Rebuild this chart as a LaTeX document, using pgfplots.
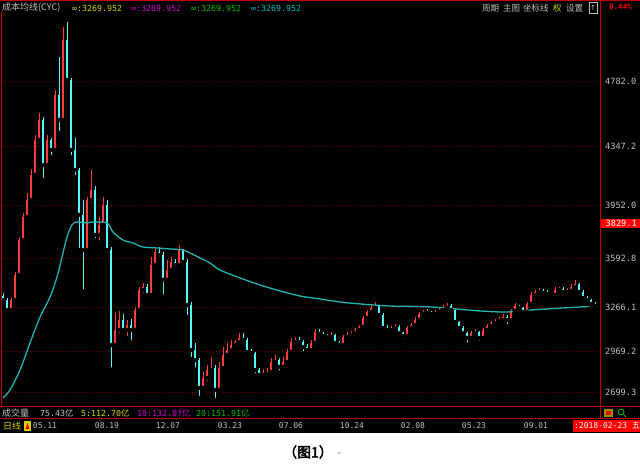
\documentclass[border=0pt]{standalone}
\usepackage{pgfplots}
\pgfplotsset{compat=1.18}
\usepackage{pgfplotstable}
\usepackage{fontspec}
\setmainfont{Liberation Sans}
\setmonofont{DejaVu Sans Mono}
\newfontfamily\cjk{Noto Sans CJK SC}[AutoFakeBold=3]
\newfontfamily\dejavu{DejaVu Sans}

\definecolor{upred}{RGB}{255,60,60}
\definecolor{dncyan}{RGB}{84,250,250}
\definecolor{cycline}{RGB}{30,180,180}
\definecolor{gridred}{RGB}{130,0,0}
\definecolor{framered}{RGB}{190,0,0}
\definecolor{lbl}{RGB}{192,192,192}
\definecolor{ylw}{RGB}{210,210,0}
\definecolor{mag}{RGB}{210,0,210}
\definecolor{grn}{RGB}{0,190,0}
\definecolor{cyn}{RGB}{0,190,190}

% x = pixel column of the candle, o h l c = index points
\pgfplotstableread{
x o h l c
3 3340 3360 3290 3315
7 3315 3330 3225 3248
11 3248 3330 3235 3315
15 3315 3500 3300 3483
19 3483 3740 3470 3717
23 3717 3900 3700 3871
27 3871 4030 3850 3985
31 3985 4190 3960 4153
35 4153 4420 4130 4387
39 4387 4568 4370 4521
43 4521 4540 4119 4219
47 4219 4420 4200 4387
51 4387 4400 4273 4320
55 4320 4720 4300 4688
59 4688 4943 4434 4521
63 4521 5144 4500 5057
67 5057 5178 4769 4789
71 4789 4800 4273 4320
75 4320 4400 4139 4186
79 4186 4200 3650 3885
83 3885 3985 3373 3650
87 3650 4005 3630 3985
91 3985 4186 3950 4052
95 4052 4080 3717 3751
99 3751 3870 3700 3818
103 3818 4005 3800 3952
107 3952 3985 3620 3650
111 3650 3670 2850 3014
115 3014 3230 2990 3114
119 3114 3240 3080 3181
123 3181 3220 3090 3114
127 3114 3180 3060 3148
131 3148 3190 3030 3114
135 3114 3270 3100 3248
139 3248 3400 3230 3382
143 3382 3430 3350 3400
147 3400 3420 3330 3349
151 3349 3600 3340 3550
155 3550 3660 3530 3637
159 3637 3670 3590 3617
163 3617 3640 3340 3450
167 3450 3583 3430 3516
171 3516 3600 3500 3570
175 3570 3590 3520 3550
179 3550 3684 3540 3650
183 3650 3660 3540 3570
187 3570 3590 3200 3282
191 3282 3300 2920 2980
195 2980 3030 2850 2913
199 2913 2930 2659 2726
203 2726 2830 2700 2793
207 2793 2880 2760 2846
211 2846 2933 2820 2860
215 2860 2880 2645 2713
219 2713 2900 2700 2860
223 2860 3000 2840 2947
227 2947 3030 2930 2980
231 2980 3050 2960 3014
235 3014 3050 2990 3034
239 3034 3094 3020 3061
243 3061 3097 3020 3047
247 3047 3060 2940 2967
251 2967 2990 2930 2960
255 2960 2970 2810 2846
259 2846 2860 2790 2813
263 2813 2850 2790 2820
267 2820 2860 2795 2833
271 2833 2930 2820 2900
275 2900 2945 2890 2913
279 2913 2930 2830 2867
283 2867 2935 2850 2900
287 2900 2990 2890 2967
291 2967 3060 2950 3034
295 3034 3070 3020 3047
299 3047 3065 3010 3034
303 3034 3050 2960 3000
307 3000 3020 2960 2980
311 2980 3045 2970 3027
315 3027 3120 3020 3101
319 3101 3120 3070 3088
323 3088 3100 3050 3074
327 3074 3090 3050 3067
331 3067 3100 3060 3081
335 3081 3090 3010 3027
339 3027 3040 2990 3014
343 3014 3080 3000 3067
347 3067 3100 3060 3081
351 3081 3110 3075 3094
355 3094 3130 3085 3114
359 3114 3150 3100 3134
363 3134 3210 3125 3195
367 3195 3250 3185 3235
371 3235 3280 3225 3262
375 3262 3301 3250 3275
379 3275 3285 3200 3215
383 3215 3225 3110 3128
387 3128 3150 3100 3114
391 3114 3140 3095 3125
395 3125 3155 3110 3134
399 3134 3145 3080 3094
403 3094 3100 3044 3074
407 3074 3140 3065 3128
411 3128 3160 3120 3148
415 3148 3200 3140 3181
419 3181 3235 3170 3222
423 3222 3250 3215 3235
427 3235 3255 3210 3230
431 3230 3245 3200 3222
435 3222 3250 3215 3235
439 3235 3265 3230 3248
443 3248 3280 3245 3262
447 3262 3295 3255 3275
451 3275 3290 3235 3248
455 3248 3255 3150 3168
459 3168 3175 3110 3128
463 3128 3140 3080 3094
467 3094 3100 3016 3061
471 3061 3110 3050 3094
475 3094 3120 3080 3101
479 3101 3110 3030 3061
483 3061 3130 3055 3114
487 3114 3155 3105 3141
491 3141 3175 3130 3161
495 3161 3190 3150 3175
499 3175 3200 3165 3181
503 3181 3220 3175 3201
507 3201 3215 3140 3181
511 3181 3255 3175 3242
515 3242 3295 3235 3275
519 3275 3285 3245 3262
523 3262 3270 3215 3235
527 3235 3305 3225 3289
531 3289 3370 3280 3349
535 3349 3385 3340 3369
539 3369 3396 3355 3376
543 3376 3390 3345 3362
547 3362 3380 3340 3356
551 3356 3365 3330 3349
555 3349 3402 3340 3382
559 3382 3405 3365 3390
563 3390 3400 3350 3369
567 3369 3395 3355 3376
571 3376 3423 3370 3402
575 3402 3450 3395 3423
579 3423 3430 3340 3369
583 3369 3380 3300 3329
587 3329 3340 3290 3315
591 3315 3320 3262 3289
595 3289 3300 3262 3275
}\candles

% cost line CYC (infinite period)
\pgfplotstableread{
x v
3 2659
10 2713
20 2846
30 3027
40 3201
50 3335
57 3469
62 3603
67 3737
72 3818
77 3838
87 3831
93 3838
107 3831
113 3771
123 3717
133 3697
143 3670
157 3664
170 3657
183 3650
190 3630
200 3597
210 3563
220 3516
240 3463
260 3416
280 3376
300 3342
320 3322
340 3302
360 3289
390 3275
430 3269
480 3242
507 3235
530 3248
563 3262
597 3275
}\cyc

\begin{document}
\begin{tikzpicture}[x=1pt,y=1pt]
\useasboundingbox (0,0) rectangle (640,471);
\clip (0,0) rectangle (640,471);
\fill[white] (0,0) rectangle (640,471);
\fill[black] (0,38) rectangle (640,471);

\begin{axis}[
    at={(3pt,64pt)}, anchor=south west,
    scale only axis, width=597pt, height=395pt,
    xmin=3, xmax=600, ymin=2598.8, ymax=5244,
    axis line style={draw=none},
    xtick=\empty,
    ytick={2699.3,2969.2,3266.1,3592.8,3952.0,4347.2,4782.0},
    yticklabels={},
    major tick length=0pt,
    ymajorgrids,
    grid style={draw=gridred, line width=0.7pt, dash pattern=on 1pt off 2pt},
    clip=false,
]
    % wicks
    \addplot[only marks, mark=none, forget plot,
        restrict expr to domain={\thisrow{c}-\thisrow{o}}{0:100000},
        error bars/.cd, y dir=plus, y explicit, error mark=none,
        error bar style={draw=upred, line width=0.6pt}]
        table[x=x, y=l, y error expr=\thisrow{h}-\thisrow{l}] {\candles};
    \addplot[only marks, mark=none, forget plot,
        restrict expr to domain={\thisrow{o}-\thisrow{c}}{0.001:100000},
        error bars/.cd, y dir=plus, y explicit, error mark=none,
        error bar style={draw=dncyan, line width=0.6pt}]
        table[x=x, y=l, y error expr=\thisrow{h}-\thisrow{l}] {\candles};
    % bodies
    \addplot[only marks, mark=none, forget plot,
        restrict expr to domain={\thisrow{c}-\thisrow{o}}{0:100000},
        error bars/.cd, y dir=plus, y explicit, error mark=none,
        error bar style={draw=upred, line width=1.8pt}]
        table[x=x, y=o, y error expr=\thisrow{c}-\thisrow{o}] {\candles};
    \addplot[only marks, mark=none, forget plot,
        restrict expr to domain={\thisrow{o}-\thisrow{c}}{0.001:100000},
        error bars/.cd, y dir=plus, y explicit, error mark=none,
        error bar style={draw=dncyan, line width=1.8pt}]
        table[x=x, y=c, y error expr=\thisrow{o}-\thisrow{c}] {\candles};
    % CYC
    \addplot[cycline, line width=1.3pt, smooth, mark=none] table[x=x, y=v] {\cyc};

    % right-hand price labels
    \begin{scope}[every node/.style={anchor=west, inner sep=0pt, text=lbl,
            font=\ttfamily\fontsize{8.6}{9}\selectfont}]
    \node at (axis cs:605,4782.0) {4782.0};
    \node at (axis cs:605,4347.2) {4347.2};
    \node at (axis cs:605,3952.0) {3952.0};
    \node at (axis cs:605,3592.8) {3592.8};
    \node at (axis cs:605,3266.1) {3266.1};
    \node at (axis cs:605,2969.2) {2969.2};
    \node at (axis cs:605,2699.3) {2699.3};
    \end{scope}
    \node[anchor=west, fill=red, text=white, inner xsep=4pt, inner ysep=1.5pt,
        minimum width=42pt, font=\ttfamily\fontsize{8.6}{9}\selectfont]
        at (axis cs:600,3829.1) {3829.1};
\end{axis}

% frame lines
\draw[framered, line width=1pt] (0,470.5) -- (640,470.5);
\draw[framered, line width=0.8pt] (1.5,459) -- (1.5,64);
\draw[framered, line width=1pt] (600.5,471) -- (600.5,52);
\draw[framered, line width=1pt] (0,64) -- (640,64);
\draw[framered, line width=1pt] (0,52) -- (640,52);

% header row
\node[anchor=west, inner sep=0pt, text=lbl, font=\cjk\fontsize{9}{9}\selectfont] at (2,463) {成本均线(CYC)};
\begin{scope}[every node/.style={anchor=west, inner sep=0pt, font=\ttfamily\fontsize{8.3}{9}\selectfont}]
\node[text=ylw] at (72,463) {∞:3269.952};
\node[text=mag] at (131,463) {∞:3269.952};
\node[text=grn] at (191,463) {∞:3269.952};
\node[text=cyn] at (251,463) {∞:3269.952};
\end{scope}
\begin{scope}[every node/.style={anchor=west, inner sep=0pt, text=lbl, font=\cjk\fontsize{8.5}{9}\selectfont}]
\node at (482,463) {周期};
\node at (503,463) {主图};
\node at (523,463) {坐标线};
\node[text=ylw] at (553,463) {权};
\node at (566,463) {设置};
\end{scope}
\draw[lbl, line width=0.6pt] (589,457.5) rectangle (597,468.5);
\node[text=lbl, inner sep=0pt, font=\dejavu\fontsize{7}{7}\selectfont] at (593,463) {↑};
\node[anchor=west, inner sep=0pt, text=red, font=\ttfamily\bfseries\fontsize{7.5}{8}\selectfont] at (609,464) {0.44\%};

% volume row
\node[anchor=west, inner sep=0pt, text=lbl, font=\cjk\fontsize{9}{9}\selectfont] at (2,58) {成交量};
\begin{scope}[every node/.style={anchor=west, inner sep=0pt, font=\ttfamily\fontsize{8.3}{9}\selectfont}]
\node[text=lbl] at (40,58) {75.43{\cjk 亿}};
\node[text=ylw] at (81,58) {5:112.70{\cjk 亿}};
\node[text=mag] at (137,58) {10:132.07{\cjk 亿}};
\node[text=grn] at (196,58) {20:151.91{\cjk 亿}};
\end{scope}
\fill[ylw!70!black] (604,54) rectangle (613,62);
\fill[red] (606,56) rectangle (611,60);
\draw[grn, line width=0.8pt] (621,59) circle (3pt);
\draw[grn, line width=1pt] (623,57) -- (626,54);

% date row
\node[anchor=west, inner sep=0pt, text=ylw, font=\cjk\fontsize{9}{9}\selectfont] at (3,45) {日线};
\fill[ylw] (24,40) rectangle (31,50);
\fill[red] (25.5,42) -- (29.5,42) -- (27.5,48) -- cycle;
\begin{scope}[every node/.style={inner sep=0pt, text=lbl, font=\ttfamily\fontsize{8}{9}\selectfont}]
\node at (45,45) {05.11};
\node at (107,45) {08.19};
\node at (168,45) {12.07};
\node at (230,45) {03.23};
\node at (291,45) {07.06};
\node at (352,45) {10.24};
\node at (413,45) {02.08};
\node at (474,45) {05.23};
\node at (536,45) {09.01};
\end{scope}
\fill[red] (573,39) rectangle (640,51);
\node[anchor=west, inner sep=0pt, text=white, font=\ttfamily\fontsize{8}{9}\selectfont] at (574,45) {:2018-02-23 {\cjk 五}};

% caption
\node[inner sep=0pt, font=\cjk\bfseries\fontsize{14}{14}\selectfont] at (308,19) {（图1）};
\node[inner sep=0pt, text=black!40, font=\dejavu\fontsize{6}{6}\selectfont] at (340,17) {↵};
\end{tikzpicture}
\end{document}
